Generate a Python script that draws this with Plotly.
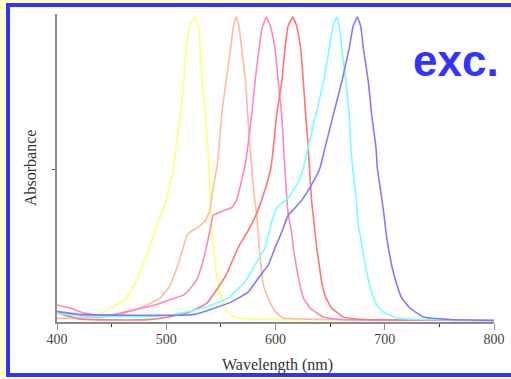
import plotly.graph_objects as go

# ---- data ----
yellow_wl = [400, 420, 440, 449, 463, 472, 479, 485, 490, 495, 499, 504, 507, 509, 513, 516, 518, 521.5, 525.5, 529.5, 531, 533, 536, 538, 539.5, 540.5, 541.5, 543, 546, 549, 555, 564, 600, 800]
yellow_ab = [0.012, 0.015, 0.028, 0.045, 0.075, 0.13, 0.19, 0.25, 0.30, 0.35, 0.39, 0.46, 0.51, 0.571, 0.679, 0.787, 0.898, 0.97, 1.0, 0.97, 0.898, 0.787, 0.679, 0.571, 0.50, 0.38, 0.30, 0.247, 0.16, 0.095, 0.039, 0.013, 0.008, 0.005]

salmon_wl = [400, 440, 455, 470, 482, 494, 503, 511, 516, 519, 524, 528, 535.5, 540, 542, 544.5, 546.5, 548.3, 550.7, 554.7, 559, 561.5, 564, 566.5, 569, 572.7, 574.5, 576.7, 578.2, 580.6, 582.8, 584.5, 586.5, 589, 593, 597, 601, 607, 650, 800]
salmon_ab = [0.012, 0.015, 0.023, 0.039, 0.056, 0.078, 0.116, 0.19, 0.25, 0.285, 0.30, 0.308, 0.33, 0.367, 0.42, 0.47, 0.51, 0.571, 0.679, 0.787, 0.898, 0.97, 1.0, 0.97, 0.898, 0.787, 0.679, 0.571, 0.51, 0.41, 0.35, 0.27, 0.19, 0.12, 0.08, 0.05, 0.03, 0.013, 0.008, 0.005]

pink_wl = [400, 412, 424, 440, 449, 470, 494, 505, 516, 522, 528, 533, 537, 540, 543, 549, 556, 560, 564.5, 569, 572, 574.5, 578.2, 581.2, 585, 587.5, 591.5, 595.5, 599.5, 602.6, 605.7, 607.8, 609.5, 611.7, 614.8, 616.3, 618.8, 621.8, 625.5, 631.6, 643.8, 660, 800]
pink_ab = [0.056, 0.046, 0.03, 0.022, 0.023, 0.039, 0.061, 0.075, 0.089, 0.11, 0.14, 0.19, 0.25, 0.30, 0.35, 0.36, 0.37, 0.375, 0.40, 0.465, 0.51, 0.571, 0.679, 0.787, 0.898, 0.96, 1.0, 0.97, 0.898, 0.787, 0.679, 0.55, 0.45, 0.351, 0.295, 0.243, 0.187, 0.131, 0.079, 0.046, 0.016, 0.008, 0.005]

red_wl = [400, 410, 420, 440, 480, 500, 510, 522, 537, 546, 555, 561, 567.5, 575, 582.8, 588, 591, 593.4, 596, 598, 601, 605.7, 608.7, 611.5, 615.7, 619.5, 623, 625.5, 627.6, 630, 631.5, 633, 634.5, 636.2, 637.7, 640, 642.3, 646.2, 651.4, 662, 680, 800]
red_ab = [0.03, 0.02, 0.01, 0.007, 0.007, 0.015, 0.023, 0.034, 0.061, 0.105, 0.155, 0.205, 0.255, 0.30, 0.356, 0.407, 0.44, 0.47, 0.51, 0.571, 0.679, 0.787, 0.898, 0.97, 1.0, 0.97, 0.898, 0.787, 0.679, 0.571, 0.48, 0.40, 0.35, 0.295, 0.243, 0.187, 0.131, 0.079, 0.046, 0.016, 0.008, 0.005]

cyan_wl = [400, 420, 450, 480, 505, 526, 541.6, 556.8, 572, 581.2, 590.4, 596.5, 601, 611.7, 621, 625.5, 631, 637, 643.8, 649.3, 652.5, 656, 658.5, 660.6, 664.5, 667.5, 669, 670.6, 673.7, 675.8, 678, 681, 684, 688, 692.6, 700, 711, 730, 800]
cyan_ab = [0.03, 0.02, 0.018, 0.018, 0.023, 0.039, 0.056, 0.079, 0.131, 0.187, 0.243, 0.328, 0.374, 0.407, 0.46, 0.505, 0.59, 0.679, 0.787, 0.898, 0.97, 1.0, 0.97, 0.898, 0.787, 0.679, 0.571, 0.505, 0.407, 0.318, 0.275, 0.21, 0.154, 0.098, 0.056, 0.03, 0.013, 0.008, 0.005]

blue_wl = [400, 420, 470, 510, 526, 544.6, 559.8, 575, 584.3, 593.4, 599.5, 605.7, 611.7, 617.8, 625.5, 634.6, 640.7, 645.3, 652.9, 660.6, 667.5, 671, 675, 678, 680.4, 685, 688, 692, 693.2, 697.2, 699.3, 701.1, 703.3, 706.3, 710.3, 715.5, 723, 735.3, 760, 800]
blue_ab = [0.035, 0.025, 0.022, 0.022, 0.025, 0.046, 0.066, 0.098, 0.144, 0.187, 0.243, 0.295, 0.351, 0.374, 0.407, 0.46, 0.505, 0.571, 0.679, 0.787, 0.898, 0.97, 1.0, 0.97, 0.898, 0.787, 0.679, 0.571, 0.505, 0.407, 0.351, 0.295, 0.243, 0.187, 0.131, 0.079, 0.046, 0.016, 0.008, 0.005]

x_ticks = [400, 500, 600, 700, 800]
x_tick_labels = ["400", "500", "600", "700", "800"]

series = [
    ("yellow", yellow_wl, yellow_ab, "#FFFF77"),
    ("salmon", salmon_wl, salmon_ab, "#FFBBA4"),
    ("pink", pink_wl, pink_ab, "#FF86C4"),
    ("red", red_wl, red_ab, "#FF7676"),
    ("cyan", cyan_wl, cyan_ab, "#77FFFF"),
    ("blue", blue_wl, blue_ab, "#7D7DFA"),
]

fig = go.Figure()
for name, wl, ab, col in series:
    fig.add_trace(go.Scatter(x=wl, y=ab, mode="lines", name=name,
                             line=dict(color=col, width=1.6, shape="spline", smoothing=0.3),
                             hoverinfo="skip", showlegend=False))

W, H = 511, 379
L, R, T, B = 57, 17, 14, 57
pw, ph = W - L - R, H - T - B

def px2x(px):
    return (px - L) / pw

def py2y(py):
    return (H - B - py) / ph

serif = "Liberation Serif, Times New Roman, serif"

fig.update_layout(
    width=W, height=H,
    autosize=False,
    margin=dict(l=L, r=R, t=T, b=B, pad=0, autoexpand=False),
    paper_bgcolor="#FFFFCC",
    plot_bgcolor="white",
    showlegend=False,
    xaxis=dict(range=[400, 800], tickvals=x_ticks, ticktext=x_tick_labels,
               automargin=False,
               ticks="outside", ticklen=6, tickwidth=1, tickcolor="#8c8c8c",
               ticklabelstandoff=-3,
               showline=True, linecolor="#8c8c8c", linewidth=2,
               showgrid=False, zeroline=False,
               tickfont=dict(family=serif, size=14, color="#444444"),
               minor=dict(dtick=50, tick0=400, ticks="outside", ticklen=3, tickcolor="#333333", tickwidth=1)),
    yaxis=dict(range=[0, (H - B - T) / 305], tickvals=[0.5], showticklabels=False,
               automargin=False,
               ticks="outside", ticklen=3, tickcolor="#555555",
               showline=True, linecolor="#8c8c8c", linewidth=2,
               showgrid=False, zeroline=False),
    shapes=[
        dict(type="rect", xref="paper", yref="paper",
             x0=px2x(8), x1=px2x(530), y0=py2y(375), y1=py2y(5),
             line=dict(color="#3333FF", width=4), fillcolor="white", layer="below"),
    ],
    annotations=[
        dict(text="Wavelength (nm)", xref="paper", yref="paper", x=px2x(277), y=py2y(365),
             xanchor="center", yanchor="middle", showarrow=False,
             font=dict(family=serif, size=16, color="#333333")),
        dict(text="Absorbance", xref="paper", yref="paper", x=px2x(30), y=py2y(168),
             xanchor="center", yanchor="middle", showarrow=False, textangle=-90,
             font=dict(family=serif, size=16, color="#333333")),
        dict(text="<b>exc.</b>", xref="paper", yref="paper", x=px2x(456), y=py2y(60),
             xanchor="center", yanchor="middle", showarrow=False,
             font=dict(family="Liberation Sans, Arial, sans-serif", size=44, color="#3333FF")),
    ],
)

fig.write_html("out.html", config={"displayModeBar": False},
               post_script="document.body.style.margin='0';document.body.style.padding='0';")
